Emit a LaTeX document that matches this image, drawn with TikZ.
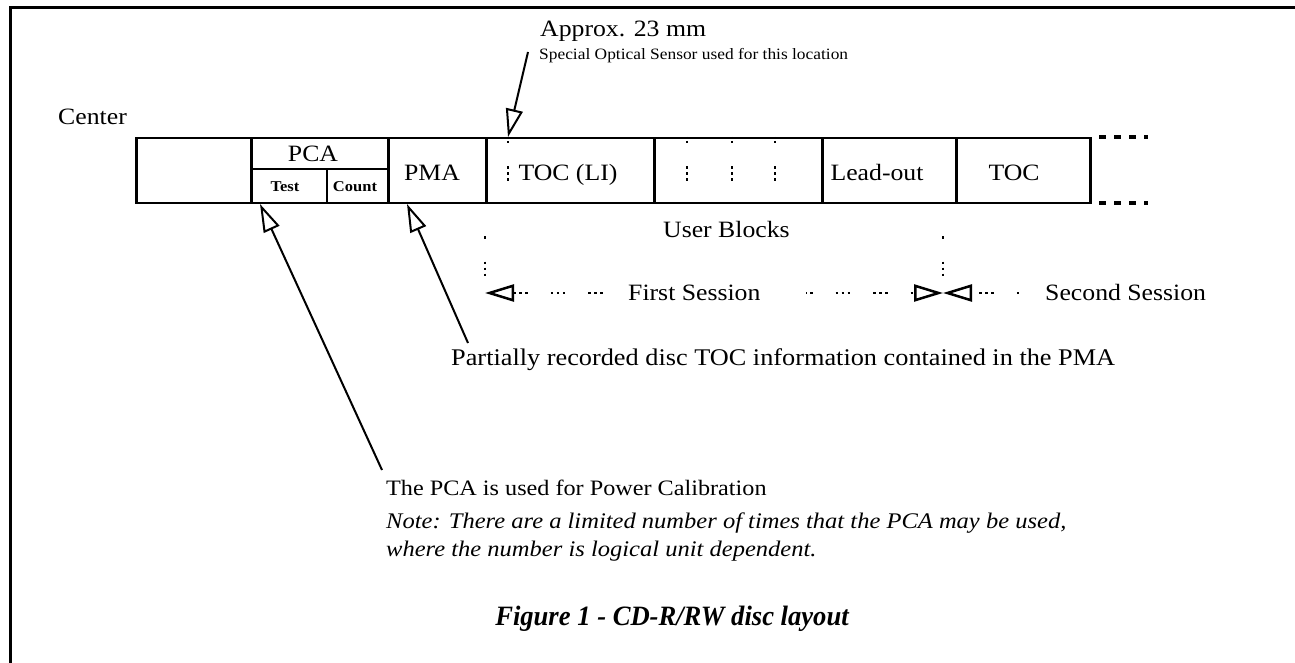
\documentclass[tikz,border=0pt]{standalone}
\usepackage{fontspec}
\setmainfont[FakeStretch=1.1]{Liberation Serif}
\newfontfamily\capfont[FakeStretch=0.95]{Liberation Serif}
\usetikzlibrary{arrows.meta}
\tikzset{opentip/.tip={Triangle[open, length=29pt, width=17pt, line width=2.5pt]}}
\begin{document}
\begin{tikzpicture}[x=1pt,y=-1pt,
  frameline/.style={line width=3pt},
  cellbox/.style={draw, line width=2.5pt, rectangle, inner sep=0pt, minimum height=65pt, anchor=north west},
  txt/.style={font=\fontsize{23.4}{27}\selectfont, inner sep=0pt},
  smalltxt/.style={font=\fontsize{15.8}{18}\selectfont, inner sep=0pt},
  boldtxt/.style={font=\fontsize{15}{17}\selectfont\bfseries, inner sep=0pt},
  notetxt/.style={font=\fontsize{22.3}{26}\selectfont\itshape, inner sep=0pt},
  captxt/.style={font=\capfont\fontsize{28}{32}\selectfont\bfseries\itshape, inner sep=0pt},
  hollowarrow/.style={line width=2pt, -{Triangle[open, length=28pt, width=17pt, line width=2pt]}},
  dotgroup/.style={line width=2.5pt, dash pattern=on 2.5pt off 3.5pt on 2.5pt off 3.5pt on 2.5pt off 23pt},
  enddots/.style={line width=4.5pt, dash pattern=on 7pt off 8pt},
]
\useasboundingbox (0,0) rectangle (1295,663);
% frame
\draw[frameline] (9,8) -- (1295,8);
\draw[frameline] (10,8) -- (10,663);

% strip cells
\node[cellbox, minimum width=115pt] (c0) at (135,137) {};
\node[cellbox, minimum width=137pt] (pca) at (250,137) {};
\node[cellbox, minimum width=98pt] (pma) at (387,137) {};
\node[cellbox, minimum width=168pt] (tocli) at (485,137) {};
\node[cellbox, minimum width=168pt] (ub) at (653,137) {};
\node[cellbox, minimum width=134pt] (lead) at (821,137) {};
\node[cellbox, minimum width=134pt] (toc) at (955,137) {};
\draw[line width=2.5pt] (pca.west |- 0,169) -- (pca.east |- 0,169);
\draw[line width=2.5pt] (327,169) -- (pca.south -| 327,0);

% cell texts
\node[txt, anchor=base] (tpca) at (313,162) {PCA};
\node[boldtxt, anchor=base] (ttest) at (285,192) {Test};
\node[boldtxt, anchor=base] (tcount) at (355,192) {Count};
\node[txt, anchor=base] (tpma) at (432,181) {PMA};
\node[txt, anchor=base] (ttocli) at (568,181) {TOC (LI)};
\node[txt, anchor=base] (tlead) at (877,181) {Lead-out};
\node[txt, anchor=base] (ttoc) at (1014,181) {TOC};

% dotted columns in strip
\draw[dotgroup, dash phase=8pt] (508,137) -- (508,202);
\draw[dotgroup, dash phase=8pt] (687,137) -- (687,202);
\draw[dotgroup, dash phase=8pt] (732,137) -- (732,202);
\draw[dotgroup, dash phase=8pt] (775,137) -- (775,202);

% continuation dots
\draw[enddots] (1099,137) -- (1148,137);
\draw[enddots] (1099,203) -- (1148,203);

% labels
\node[txt, anchor=base west] (center) at (58,125) {Center};
\node[txt, anchor=base west] (approx) at (540,37) {Approx. 23 mm};
\node[smalltxt, anchor=base west] (special) at (539,60) {Special Optical Sensor used for this location};
\coordinate (approxstart) at (528,52);
\coordinate (approxtip) at (508,137);
\draw[hollowarrow] (approxstart) -- (approxtip);

\node[txt, anchor=base west] (userblocks) at (663,237) {User Blocks};

% sessions
\coordinate (s1) at (485,293);
\coordinate (s2) at (943,293);
\coordinate (s3) at (1020,293);
\coordinate (s1top) at (485,236);
\coordinate (s2top) at (943,236);
\draw[dotgroup, dash phase=12pt] (s1top) -- (s1);
\draw[dotgroup, dash phase=12pt] (s2top) -- (s2);
\node[txt, anchor=base west] (first) at (628,300) {First Session};
\node[txt, anchor=base west] (second) at (1045,300) {Second Session};
\coordinate (fsl) at (612,293);
\coordinate (fsr) at (806,293);
\draw[dotgroup, {opentip}-] (s1) -- (fsl);
\draw[dotgroup, dash phase=8pt, -{opentip}] (fsr) -- (s2);
\draw[dotgroup, dash phase=29.5pt, {opentip}-] (s2) -- (s3);

% bottom notes
\node[txt, font=\fontsize{23.9}{27}\selectfont, anchor=base west] (partial) at (451,365) {Partially recorded disc TOC information contained in the PMA};
\node[txt, font=\fontsize{22}{26}\selectfont, anchor=base west] (pcanote) at (386,495) {The PCA is used for Power Calibration};
\node[notetxt, anchor=base west] (note1) at (386,528) {Note: There are a limited number of times that the PCA may be used,};
\node[notetxt, anchor=base west] (note2) at (386,556) {where the number is logical unit dependent.};
\node[captxt, anchor=base] (caption) at (672,625) {Figure 1 - CD-R/RW disc layout};

\coordinate (pmatip) at (407,204);
\coordinate (pmastart) at (468,343);
\draw[hollowarrow] (pmastart) -- (pmatip);
\coordinate (pcatip) at (260,204);
\coordinate (pcastart) at (382,470);
\draw[hollowarrow] (pcastart) -- (pcatip);
\end{tikzpicture}
\end{document}
